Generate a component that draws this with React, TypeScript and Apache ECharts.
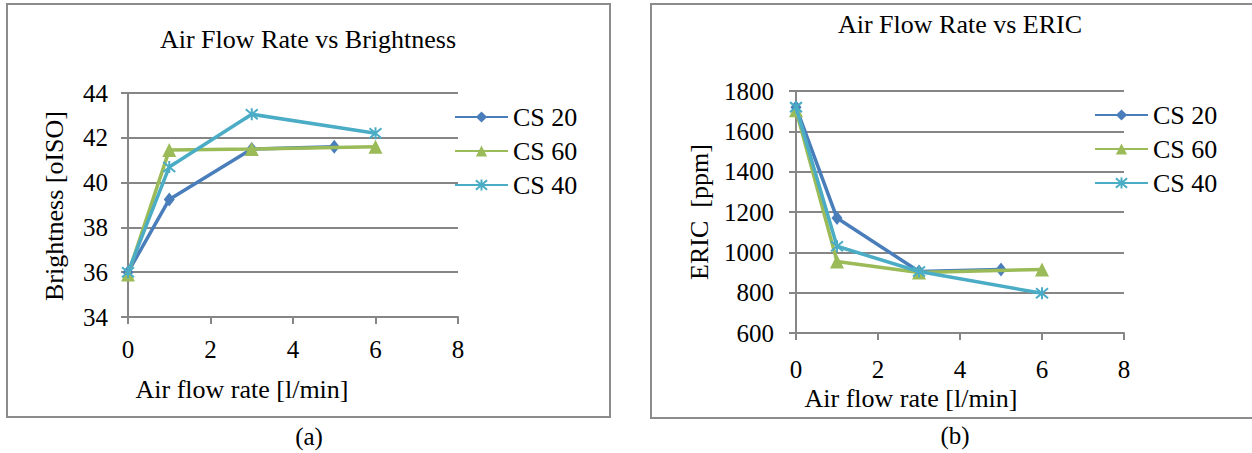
import React, { useEffect, useRef } from 'react';
import * as echarts from 'echarts';

// ---- data ----
const seriesNames = ['CS 20', 'CS 60', 'CS 40'];
const xCS20 = [0, 1, 3, 5];
const xCS60 = [0, 1, 3, 6];
const xCS40 = [0, 1, 3, 6];
const brightnessCS20 = [36.0, 39.25, 41.5, 41.6];
const brightnessCS60 = [35.9, 41.45, 41.5, 41.6];
const brightnessCS40 = [36.0, 40.7, 43.05, 42.2];
const ericCS20 = [1720, 1170, 905, 915];
const ericCS60 = [1705, 955, 900, 915];
const ericCS40 = [1720, 1030, 905, 797];

const xTicks = [0, 2, 4, 6, 8];
const yTicksA = [34, 36, 38, 40, 42, 44];
const yTicksB = [600, 800, 1000, 1200, 1400, 1600, 1800];

const titleA = 'Air Flow Rate vs Brightness';
const titleB = 'Air Flow Rate vs ERIC';
const xNameText = 'Air flow rate [l/min]';
const yNameA = 'Brightness [oISO]';
const yNameB = 'ERIC  [ppm]';
const captionA = '(a)';
const captionB = '(b)';

// ---- styles ----
const FONT = "'Liberation Serif', 'Times New Roman', serif";
const GRID_GRAY = '#868686';
const FRAME_GRAY = '#8c8c8c';
const colors = ['#4A7EBB', '#9BBB59', '#4BACC6'];
const STAR = 'path://M0,0L10,10M10,0L0,10M5,-1L5,11';
const symbols = ['diamond', 'triangle', STAR];
const symbolSizes: any[] = [[11, 14], 14, 12];

function zip(xs: number[], ys: number[]) {
  return xs.map((x, i) => [x, ys[i]]);
}

function makeSeries(gridIdx: number, idx: number, xs: number[], ys: number[]) {
  const c = colors[idx];
  return {
    type: 'line',
    name: seriesNames[idx],
    xAxisIndex: gridIdx,
    yAxisIndex: gridIdx,
    data: zip(xs, ys),
    symbol: symbols[idx],
    symbolSize: symbolSizes[idx],
    showSymbol: true,
    lineStyle: { color: c, width: 3.5 },
    itemStyle: {
      color: c,
      borderColor: c,
      borderWidth: idx === 2 ? 2 : 0,
    },
    emphasis: { disabled: true },
    silent: true,
    z: 3 + idx,
  };
}

const tickFmt = (v: number) => String(v);

function axisDef(gridIdx: number, ticks: number[], isY: boolean, margin: number) {
  return {
    type: 'value',
    gridIndex: gridIdx,
    min: ticks[0],
    max: ticks[ticks.length - 1],
    interval: ticks[1] - ticks[0],
    axisLine: { show: true, onZero: false, lineStyle: { color: GRID_GRAY, width: 2 } },
    axisTick: { show: true, length: 7, lineStyle: { color: GRID_GRAY, width: 2 } },
    axisLabel: {
      fontSize: 25,
      fontFamily: FONT,
      color: '#000',
      margin,
      formatter: tickFmt,
    },
    splitLine: { show: isY, lineStyle: { color: GRID_GRAY, width: 2 } },
  };
}

function legendDef(left: number, top: number) {
  return {
    orient: 'vertical',
    left,
    top,
    itemWidth: 53,
    itemHeight: 14,
    itemGap: 8,
    data: seriesNames,
    textStyle: { fontSize: 26, fontFamily: FONT, color: '#000' },
    selectedMode: false,
  };
}

function txt(text: string, x: number, y: number, size: number, rotation = 0) {
  return {
    type: 'text',
    x,
    y,
    rotation,
    silent: true,
    style: {
      text,
      fill: '#000',
      font: `${size}px ${FONT}`,
      align: 'center',
      verticalAlign: 'middle',
    },
  };
}

export default function App() {
  const ref = useRef<HTMLDivElement>(null);
  useEffect(() => {
    if (!ref.current) return;
    const chart = echarts.init(ref.current, undefined, { renderer: 'svg' });
    chart.setOption({
      animation: false,
      backgroundColor: '#fff',
      textStyle: { fontFamily: FONT },
      grid: [
        { left: 128, top: 93, width: 330, height: 224 },
        { left: 796, top: 91, width: 328, height: 242 },
      ],
      xAxis: [axisDef(0, xTicks, false, 20), axisDef(1, xTicks, false, 24)],
      yAxis: [axisDef(0, yTicksA, true, 20), axisDef(1, yTicksB, true, 22)],
      legend: [legendDef(449, 99), legendDef(1089, 97)],
      series: [
        makeSeries(0, 0, xCS20, brightnessCS20),
        makeSeries(0, 1, xCS60, brightnessCS60),
        makeSeries(0, 2, xCS40, brightnessCS40),
        makeSeries(1, 0, xCS20, ericCS20),
        makeSeries(1, 1, xCS60, ericCS60),
        makeSeries(1, 2, xCS40, ericCS40),
      ],
      graphic: [
        {
          type: 'rect',
          silent: true,
          shape: { x: 7, y: 4, width: 603, height: 413 },
          style: { fill: 'none', stroke: FRAME_GRAY, lineWidth: 2 },
          z: -1,
        },
        {
          type: 'rect',
          silent: true,
          shape: { x: 651, y: 4, width: 620, height: 414 },
          style: { fill: 'none', stroke: FRAME_GRAY, lineWidth: 2 },
          z: -1,
        },
        txt(titleA, 308, 39.5, 26),
        txt(titleB, 960, 24, 26),
        txt(xNameText, 242, 389.5, 26),
        txt(xNameText, 911, 398, 26),
        txt(yNameA, 54, 206, 26, Math.PI / 2),
        txt(yNameB, 699, 212, 26, Math.PI / 2),
        txt(captionA, 309, 436.5, 25),
        txt(captionB, 955, 435.5, 25),
      ],
    });
    return () => chart.dispose();
  }, []);
  return (
    <div
      ref={ref}
      style={{ position: 'fixed', left: 0, top: 0, width: 1252, height: 453 }}
    />
  );
}
